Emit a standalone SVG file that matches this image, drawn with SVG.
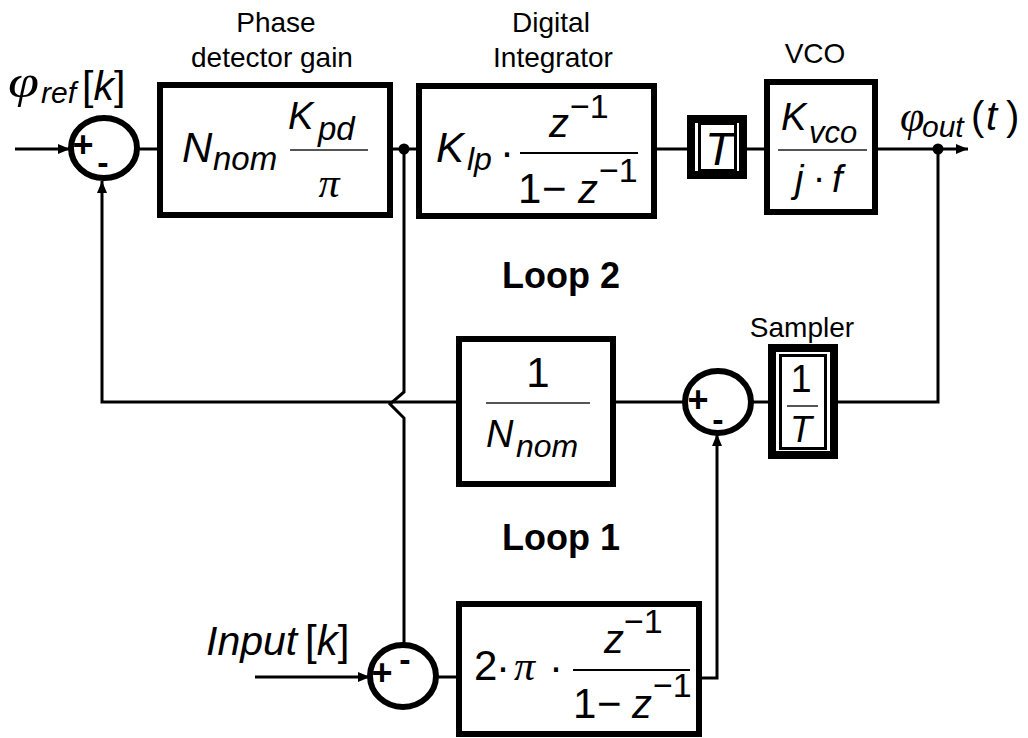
<svg xmlns="http://www.w3.org/2000/svg" width="1028" height="738" viewBox="0 0 1028 738">
<style>
  text { font-family: "Liberation Sans", Arial, sans-serif; fill: #000; }
  .lbl { font-size: 28px; text-anchor: middle; }
  .it { font-style: italic; }
  .serif { font-family: "Liberation Serif", "Times New Roman", serif; font-style: italic; }
  .box { fill: #fff; stroke: #000; stroke-width: 6; }
  .outer { fill: #fff; stroke: #000; stroke-width: 8; }
  .inner { fill: none; stroke: #000; stroke-width: 3; }
  .sum { fill: #fff; stroke: #000; stroke-width: 6; }
  .frac { stroke: #555; stroke-width: 2; }
  .wire { fill: none; stroke: #000; stroke-width: 3; }
  .plus { font-size: 36px; font-weight: bold; text-anchor: middle; }
  .minus { font-size: 34px; font-weight: bold; text-anchor: middle; }
  .loop { font-size: 36px; font-weight: bold; text-anchor: middle; }
</style>
<defs>
  <marker id="arr" viewBox="0 0 12 10" refX="12" refY="5" markerWidth="12" markerHeight="10" markerUnits="userSpaceOnUse" orient="auto">
    <path d="M0,0 L12,5 L0,10 z" fill="#000"/>
  </marker>
</defs>

<g id="connectors">
  <line class="wire" x1="15" y1="149" x2="70" y2="149" marker-end="url(#arr)"/>
  <line class="wire" x1="136" y1="149" x2="160" y2="149"/>
  <line class="wire" x1="390" y1="149" x2="419" y2="149"/>
  <line class="wire" x1="654" y1="149" x2="691" y2="149"/>
  <line class="wire" x1="743" y1="149" x2="767" y2="149"/>
  <line class="wire" x1="875" y1="149" x2="968" y2="149" marker-end="url(#arr)"/>
  <polyline class="wire" points="938,149 938,402 834,402"/>
  <line class="wire" x1="772" y1="402" x2="751" y2="402"/>
  <line class="wire" x1="685" y1="402" x2="613" y2="402"/>
  <polyline class="wire" points="459,402 102,402 102,181" marker-end="url(#arr)"/>
  <polyline class="wire" points="404,149 404,392 390,404 404,418 404,643"/>
  <line class="wire" x1="255" y1="677" x2="370" y2="677" marker-end="url(#arr)"/>
  <line class="wire" x1="436" y1="677" x2="459" y2="677"/>
  <polyline class="wire" points="699,678 717,678 717,434" marker-end="url(#arr)"/>
  <circle cx="404" cy="149" r="5.5" fill="#000"/>
  <circle cx="938" cy="149" r="5.5" fill="#000"/>
</g>

<g id="sum1">
  <ellipse class="sum" cx="104" cy="148" rx="33" ry="30"/>
  <text class="plus" x="83" y="157">+</text>
  <text class="minus" x="103" y="174">-</text>
</g>

<g id="label-phiref">
  <text class="serif" font-size="46" transform="translate(8,97) scale(1.22,1)">φ</text>
  <text x="41" y="103" class="it" font-size="30">ref</text>
  <text x="82" y="100" font-size="41">[<tspan class="it">k</tspan>]</text>
</g>

<g id="phase-detector">
  <text class="lbl" x="276" y="32">Phase</text>
  <text class="lbl" x="272" y="67">detector gain</text>
  <rect class="box" x="160" y="85" width="230" height="130"/>
  <text x="182" y="162" class="it" font-size="42">N</text>
  <text x="213" y="170" class="it" font-size="33">nom</text>
  <text x="288" y="129" class="it" font-size="38">K</text>
  <text x="318" y="140" class="it" font-size="33">pd</text>
  <line class="frac" x1="290" y1="150" x2="368" y2="150"/>
  <text x="329" y="197" class="serif" font-size="42" text-anchor="middle">π</text>
</g>

<g id="digital-integrator">
  <text class="lbl" x="551" y="32">Digital</text>
  <text class="lbl" x="553" y="67">Integrator</text>
  <rect class="box" x="419" y="86" width="235" height="130"/>
  <text x="436" y="162" class="it" font-size="42">K</text>
  <text x="467" y="170" class="it" font-size="32">lp</text>
  <text x="507" y="166" font-size="42" text-anchor="middle">·</text>
  <line x1="520" y1="153" x2="638" y2="153" stroke="#000" stroke-width="2"/>
  <text x="549" y="137" class="it" font-size="40">z</text>
  <text x="570" y="118" font-size="34">−1</text>
  <text x="518" y="203" font-size="42">1</text>
  <text x="542" y="203" font-size="42">−</text>
  <text x="578" y="203" class="it" font-size="40">z</text>
  <text x="599" y="182" font-size="34">−1</text>
</g>

<g id="hold">
  <rect class="outer" x="691" y="119" width="52" height="56"/>
  <rect class="inner" x="699.5" y="123.5" width="36" height="47"/>
  <text x="719" y="165" class="it" font-size="46" text-anchor="middle">T</text>
</g>

<g id="vco">
  <text class="lbl" x="815" y="63">VCO</text>
  <rect class="box" x="767" y="82" width="108" height="130"/>
  <text x="781" y="130" class="it" font-size="38">K</text>
  <text x="809" y="143" class="it" font-size="31">vco</text>
  <line class="frac" x1="778" y1="150" x2="867" y2="150"/>
  <text x="795" y="192" class="it" font-size="38">j</text>
  <text x="819" y="191" font-size="38" text-anchor="middle">·</text>
  <text x="832" y="192" class="it" font-size="38">f</text>
</g>

<g id="label-phiout">
  <text x="900" y="131" class="serif" font-size="44">φ</text>
  <text x="922" y="137" class="it" font-size="30">out</text>
  <text x="971" y="130" font-size="40">(</text>
  <text x="986" y="130" class="it" font-size="40">t</text>
  <text x="1006" y="130" font-size="40">)</text>
</g>

<text class="loop" x="561" y="288">Loop 2</text>

<g id="divider">
  <rect class="box" x="459" y="339" width="154" height="145"/>
  <text x="538" y="387" font-size="42" text-anchor="middle">1</text>
  <line class="frac" x1="486" y1="403" x2="590" y2="403"/>
  <text x="486" y="447" class="it" font-size="38">N</text>
  <text x="516" y="457" class="it" font-size="32">nom</text>
</g>

<g id="sum2">
  <ellipse class="sum" cx="718" cy="402" rx="33" ry="31"/>
  <text class="plus" x="698" y="412">+</text>
  <text class="minus" x="718" y="431">-</text>
</g>

<g id="sampler">
  <text class="lbl" x="802" y="337">Sampler</text>
  <rect class="outer" x="772" y="348" width="62" height="107"/>
  <rect class="inner" x="780.5" y="355.5" width="45" height="93"/>
  <text x="801" y="392" font-size="38" text-anchor="middle">1</text>
  <line class="frac" x1="787" y1="406" x2="818" y2="406"/>
  <text x="801" y="442" class="it" font-size="36" text-anchor="middle">T</text>
</g>

<text class="loop" x="561" y="550">Loop 1</text>

<g id="label-input">
  <text x="206" y="655" class="it" font-size="41">Input</text>
  <text x="305" y="655" font-size="42">[<tspan class="it">k</tspan>]</text>
</g>

<g id="sum3">
  <ellipse class="sum" cx="403" cy="676" rx="33" ry="31"/>
  <text class="plus" x="382" y="685">+</text>
  <text class="minus" x="405" y="671">-</text>
</g>

<g id="accumulator">
  <rect class="box" x="459" y="604" width="240" height="130"/>
  <text x="474" y="680" font-size="42">2</text>
  <text x="503" y="681" font-size="42" text-anchor="middle">·</text>
  <text x="514" y="680" class="serif" font-size="42">π</text>
  <text x="556" y="681" font-size="42" text-anchor="middle">·</text>
  <line x1="573" y1="670" x2="690" y2="670" stroke="#000" stroke-width="2"/>
  <text x="604" y="653" class="it" font-size="40">z</text>
  <text x="624" y="633" font-size="34">−1</text>
  <text x="573" y="718" font-size="42">1</text>
  <text x="597" y="718" font-size="42">−</text>
  <text x="632" y="718" class="it" font-size="40">z</text>
  <text x="653" y="697" font-size="34">−1</text>
</g>
</svg>
